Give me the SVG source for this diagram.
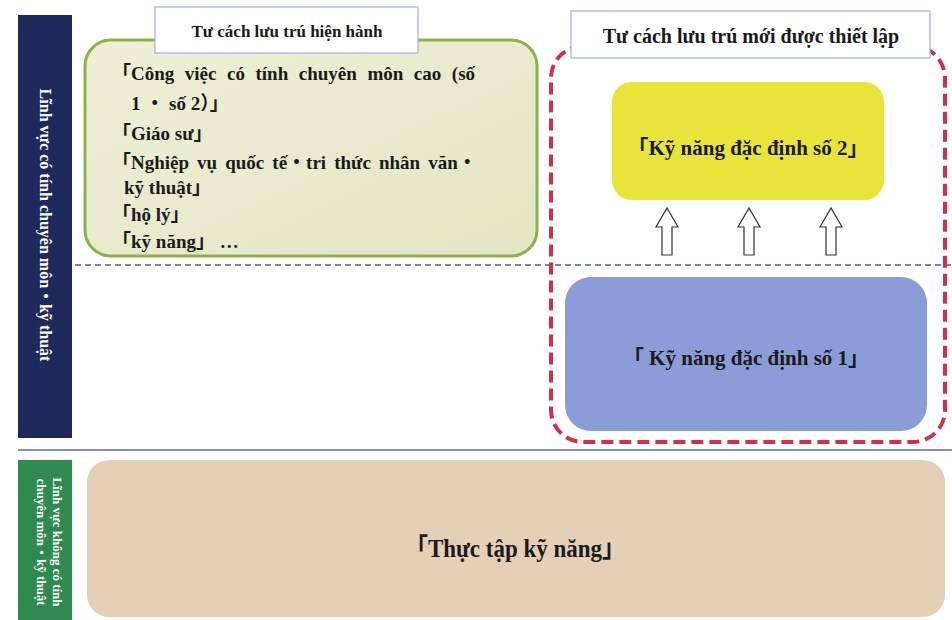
<svg xmlns="http://www.w3.org/2000/svg" width="952" height="620" viewBox="0 0 952 620">
<defs>
<style>
.t{font-family:"Liberation Serif","Noto Sans CJK JP",serif;font-weight:bold;fill:#1a1a1a}
.side{font-family:"Liberation Serif","Noto Sans CJK JP",serif;font-weight:bold;fill:#ffffff}
.title{fill:#ffffff;stroke:#9fb0dc;stroke-width:1.2}
.arrow{fill:#ffffff;stroke:#333333;stroke-width:1.2}
</style>
<linearGradient id="gGreen" x1="0" y1="0" x2="1" y2="1">
<stop offset="0" stop-color="#eef0d6"/><stop offset="1" stop-color="#e2e6c4"/>
</linearGradient>
</defs>
<rect width="952" height="620" fill="#ffffff"/>

<g id="side-specialized">
<rect x="18" y="15" width="54" height="423" fill="#1e2a5c"/>
<text class="side" font-size="16" transform="translate(40,225) rotate(90)" text-anchor="middle">Lĩnh vực có tính chuyên môn・kỹ thuật</text>
</g>
<g id="side-nonspecialized">
<rect x="18" y="460" width="54" height="160" fill="#2e8a4e"/>
<text class="side" font-size="13" transform="translate(53,542) rotate(90)" text-anchor="middle">Lĩnh vực không có tính</text>
<text class="side" font-size="13" transform="translate(37,542) rotate(90)" text-anchor="middle">chuyên môn・kỹ thuật</text>
</g>

<g id="dividers">
<line x1="75" y1="265" x2="952" y2="265" stroke="#4a5ea8" stroke-width="1.5" stroke-dasharray="6 4"/>
<line x1="18" y1="450" x2="952" y2="450" stroke="#5a6aa8" stroke-width="1.5"/>
</g>

<g id="current-status">
<rect x="85" y="40" width="452" height="216" rx="26" fill="url(#gGreen)" stroke="#8db24c" stroke-width="3"/>
<rect class="title" x="155" y="7" width="263" height="46"/>
<text class="t" x="287" y="37" font-size="17" text-anchor="middle">Tư cách lưu trú hiện hành</text>
<text class="t" font-size="19">
<tspan x="112" y="80" word-spacing="5.8">「Công việc có tính chuyên môn cao (số</tspan>
<tspan x="131" y="110">1 ・ số 2）」</tspan>
<tspan x="112" y="140">「Giáo sư」</tspan>
<tspan x="112" y="169" word-spacing="3.3">「Nghiệp vụ quốc tế・tri thức nhân văn・</tspan>
<tspan x="124" y="194">kỹ thuật」</tspan>
<tspan x="112" y="221">「hộ lý」</tspan>
<tspan x="112" y="248">「kỹ năng」 …</tspan>
</text>
</g>

<g id="new-status">
<rect x="551" y="46" width="394" height="396" rx="32" fill="none" stroke="#d2304a" stroke-width="4" stroke-dasharray="12 6"/>
<rect class="title" x="571" y="11" width="359" height="47"/>
<text class="t" x="751" y="43" font-size="20" text-anchor="middle">Tư cách lưu trú mới được thiết lập</text>
</g>

<g id="ssw2">
<rect x="612" y="82" width="272" height="118" rx="20" fill="#e8e43a"/>
<text class="t" x="748" y="155" font-size="21" text-anchor="middle">「Kỹ năng đặc định số 2」</text>
</g>

<g id="ssw1">
<rect x="565" y="277" width="362" height="154" rx="26" fill="#8a9dd8"/>
<text class="t" x="746" y="365" font-size="21" text-anchor="middle">「 Kỹ năng đặc định số 1」</text>
</g>

<g id="trainee">
<rect x="87" y="460" width="858" height="157" rx="22" fill="#e5cfb7"/>
<text class="t" x="405" y="557" font-size="26" textLength="220" lengthAdjust="spacingAndGlyphs">「Thực tập kỹ năng」</text>
</g>

<g id="connectors">
<path class="arrow" d="M662,255 V227 H656 L667,208 L678,227 H672 V255 Z"/>
<path class="arrow" d="M744,255 V227 H738 L749,208 L760,227 H754 V255 Z"/>
<path class="arrow" d="M826,255 V227 H820 L831,208 L842,227 H836 V255 Z"/>
</g>
</svg>
